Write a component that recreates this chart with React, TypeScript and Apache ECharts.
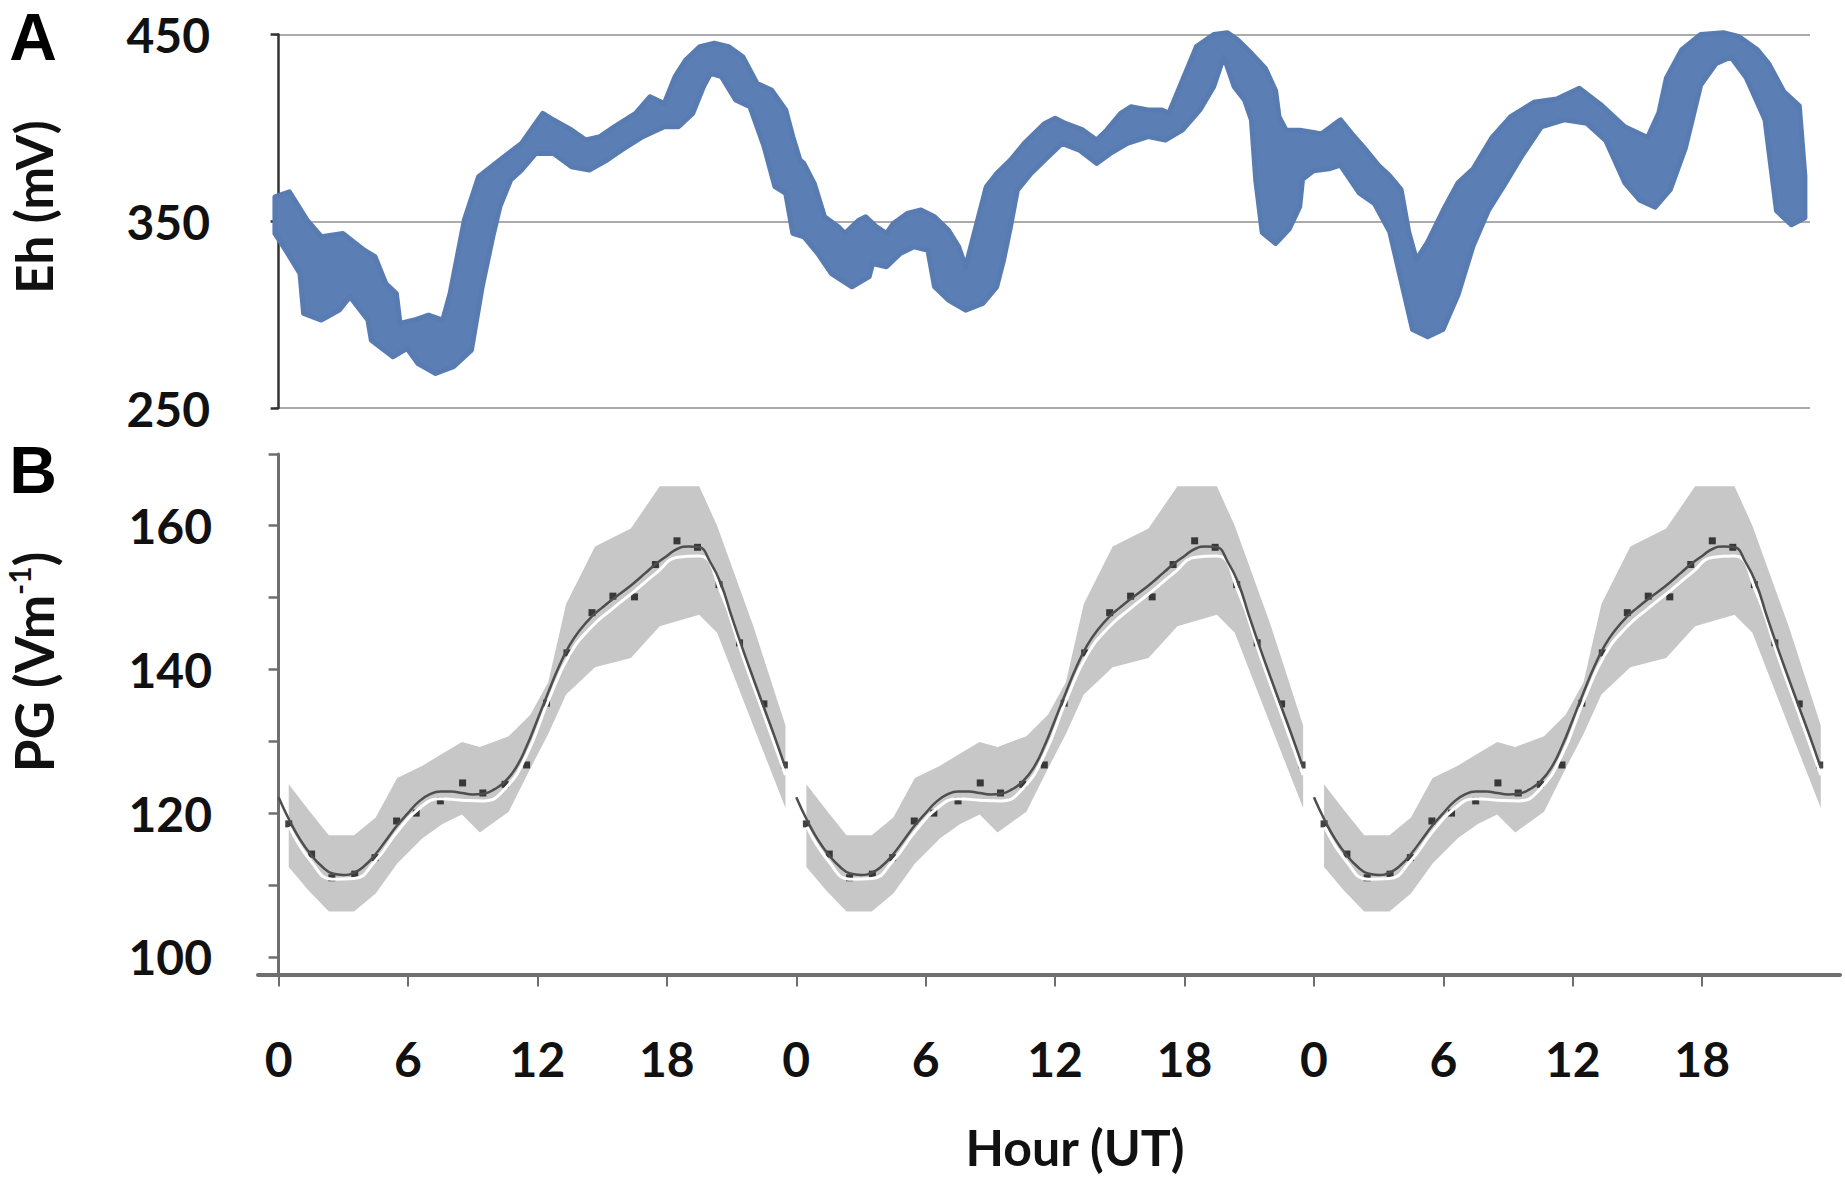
import React, { useEffect, useRef } from "react";
import * as echarts from "echarts";

// ---------- Panel A: Eh (mV), envelope of the plotted diamond markers ----------
const ehUpperHours = [
  -0.17, 0.5, 1.32, 1.98, 2.98, 3.97, 4.47, 4.97, 5.46, 5.63, 6.29, 6.95, 7.61, 7.95, 8.61, 9.27, 10.26, 11.26,
  12.25, 12.75, 13.58, 14.24, 14.9, 15.56, 16.55, 17.22, 17.88, 18.38, 18.87, 19.53, 20.2, 20.86, 21.52, 22.18,
  22.85, 23.51, 23.84, 24.17, 24.35, 24.83, 25.31, 25.95, 26.26, 26.9, 27.22, 27.7, 28.18, 28.5, 29.14, 29.78,
  30.41, 31.05, 31.53, 31.85, 32.33, 32.81, 33.29, 33.93, 34.57, 35.52, 36.0, 36.48, 37.28, 37.92, 38.4, 39.04,
  39.51, 40.31, 40.95, 41.27, 41.91, 42.55, 43.35, 43.98, 44.46, 45.1, 45.74, 46.22, 46.38, 46.7, 47.34, 47.98,
  48.35, 49.23, 49.76, 50.46, 50.99, 51.51, 52.04, 52.39, 52.75, 53.27, 53.98, 54.68, 55.38, 56.26, 57.14, 58.19,
  59.25, 60.3, 61.36, 62.41, 63.47, 63.99, 64.34, 65.05, 65.93, 66.98, 67.68, 68.56, 69.09, 69.79, 70.5, 70.76,
];
const ehUpperValues = [
  363.1, 365.8, 350.6, 341.7, 343.5, 334.5, 331.0, 316.7, 311.3, 295.3, 297.1, 299.7, 297.1, 311.3, 350.6, 373.8, 382.8, 391.7,
  407.8, 404.2, 398.9, 393.5, 395.3, 400.6, 407.8, 416.7, 413.1, 427.4, 436.3, 443.5, 445.3, 443.5, 438.1, 423.8,
  420.3, 409.6, 395.3, 382.8, 381.0, 370.3, 352.4, 347.1, 343.5, 350.6, 352.4, 347.1, 343.5, 348.8, 354.2, 356.0,
  352.4, 345.3, 336.3, 325.6, 347.1, 368.5, 375.6, 382.8, 391.7, 402.4, 405.1, 402.4, 398.9, 393.5, 398.9, 407.8,
  411.3, 409.6, 409.6, 407.8, 425.6, 443.5, 450.0, 451.0, 447.1, 439.9, 432.0, 420.0, 406.0, 398.9, 398.7, 397.5,
  396.8, 404.3, 396.8, 387.5, 380.0, 374.3, 366.9, 344.4, 329.4, 338.8, 355.6, 370.6, 378.1, 394.9, 406.2, 413.7,
  415.5, 421.2, 411.8, 400.6, 394.9, 408.1, 426.8, 441.8, 450.0, 451.0, 449.0, 441.8, 434.3, 419.3, 411.8, 374.3,
];
const ehLowerHours = [
  -0.17, 0.33, 0.99, 1.16, 1.98, 2.81, 3.31, 4.14, 4.3, 5.3, 5.96, 6.46, 7.28, 8.11, 8.94, 9.44, 9.93, 10.26,
  10.76, 11.26, 11.92, 12.75, 13.58, 14.4, 15.23, 15.89, 16.88, 17.88, 18.54, 19.2, 19.7, 20.03, 20.53, 21.19,
  21.85, 22.51, 23.01, 23.51, 23.84, 24.35, 24.99, 25.63, 26.58, 27.38, 27.54, 28.18, 28.82, 29.46, 30.1, 30.41,
  31.05, 31.85, 32.65, 33.29, 33.61, 33.93, 34.25, 34.88, 35.52, 36.32, 37.12, 37.92, 38.56, 39.35, 40.31, 41.11,
  41.91, 42.71, 43.35, 43.82, 44.3, 44.78, 45.1, 45.3, 45.6, 46.22, 46.86, 47.34, 47.47, 47.98, 48.7, 49.23,
  50.11, 50.81, 51.51, 52.04, 52.57, 53.27, 53.98, 54.68, 55.38, 56.08, 56.79, 57.67, 58.54, 59.6, 60.65, 61.53,
  62.41, 63.11, 63.82, 64.52, 65.22, 65.93, 66.63, 67.33, 68.04, 68.91, 69.44, 70.14, 70.76,
];
const ehLowerValues = [
  343.5, 334.5, 322.0, 300.6, 297.1, 302.4, 309.6, 297.1, 286.3, 277.4, 281.9, 273.8, 268.5, 272.1, 281.0, 315.0, 341.7, 357.8,
  372.1, 377.4, 386.3, 386.3, 379.2, 377.4, 382.8, 388.1, 395.3, 400.6, 400.6, 407.8, 422.1, 429.2, 427.4, 414.9,
  411.3, 389.9, 368.5, 364.9, 343.5, 341.7, 332.8, 322.0, 314.9, 320.3, 327.4, 325.6, 332.8, 336.3, 334.5, 314.9,
  307.8, 302.4, 306.0, 314.9, 329.2, 347.1, 366.7, 375.6, 382.8, 391.7, 388.1, 381.0, 386.3, 391.7, 395.3, 393.5,
  398.9, 409.6, 422.1, 438.1, 422.1, 414.9, 404.2, 372.0, 344.0, 338.1, 346.0, 357.8, 372.5, 377.0, 378.1, 380.0,
  365.0, 359.4, 344.4, 318.2, 292.0, 288.2, 292.0, 310.7, 336.9, 355.6, 368.7, 385.6, 400.6, 404.3, 402.4, 393.1,
  370.6, 361.2, 357.5, 366.9, 389.3, 423.0, 434.3, 438.0, 426.8, 404.3, 355.6, 348.1, 351.9,
];
const ehLabelTicks = [250, 350, 450];

// ---------- Panel B: PG (V/m), one composite day, shown for each of the three days ----------
const dayOffsets = [0, 24, 48];
const pgLineHours = [
  0, 0.5, 1, 1.5, 2, 2.5, 3, 3.5, 4, 4.5, 5, 5.5, 6, 6.5, 7, 7.5, 8, 8.5, 9, 9.5, 10, 10.5, 11, 11.5,
  12, 12.5, 13, 13.5, 14, 14.5, 15, 15.5, 16, 16.5, 17, 17.5, 18, 18.5, 19, 19.5, 20, 20.5, 21, 21.5, 22, 22.5, 23, 23.5,
];
const pgLineValues = [
  122.2, 119.0, 116.3, 114.2, 112.6, 111.6, 111.4, 111.7, 112.7, 114.3, 116.3, 118.3, 120.0, 121.6, 122.6, 123.0, 123.0, 122.8,
  122.6, 122.7, 123.3, 124.4, 126.3, 129.3, 133.0, 136.8, 140.4, 143.4, 145.6, 147.3, 148.6, 149.8, 150.9, 152.1, 153.4, 154.7,
  155.8, 156.8, 157.1, 157.0, 155.0, 152.0, 147.4, 143.0, 138.8, 134.7, 130.6, 126.3,
];
const pgWhiteHours = [0.5, 1.5, 2.5, 3.5, 4.5, 5.5, 6.5, 7.5, 8.5, 9.5, 10.5, 11.5, 12.5, 13.5, 14.5, 15.5, 16.5, 17.5, 18.5, 19.5, 20.5, 21.5, 22.5, 23.5];
const pgWhiteValues = [
  118.1, 113.3, 110.8, 110.9, 113.4, 117.4, 120.6, 122.0, 121.8, 121.7, 123.4, 128.1, 135.6, 142.1, 145.9, 148.5, 150.9, 153.4,
  155.6, 155.8, 150.8, 142.0, 133.7, 125.3,
];
const pgDotHours = [
  0.47, 1.53, 2.47, 3.53, 4.47, 5.47, 6.38, 7.5, 8.53, 9.47, 10.5, 11.5, 12.42, 13.37, 14.53, 15.5, 16.5, 17.47, 18.47, 19.42,
  20.42, 21.37, 22.5, 23.45,
];
const pgDotValues = [
  118.5, 114.3, 111.0, 111.5, 113.8, 118.9, 120.0, 121.7, 124.2, 122.8, 124.0, 126.7, 135.3, 142.3, 147.9, 150.2, 150.1, 154.6,
  157.9, 157.0, 151.8, 143.7, 135.2, 126.7,
];
const pgBandHours = [0.47, 1.4, 2.33, 3.5, 4.5, 5.5, 6.67, 7.6, 8.5, 9.33, 10.67, 11.67, 12.5, 13.33, 14.67, 16.33, 17.67, 19.5, 20.33, 22, 23.5];
const pgBandUpper = [124.0, 120.4, 116.9, 116.9, 119.4, 124.9, 126.6, 128.3, 129.9, 129.2, 130.7, 133.7, 138.2, 149.1, 157.1, 159.6, 165.5, 165.5, 160.0, 146.1, 132.2];
const pgBandLower = [112.5, 109.2, 106.3, 106.3, 108.8, 113.0, 116.5, 118.5, 119.8, 117.3, 120.2, 126.2, 131.0, 136.5, 140.3, 141.6, 146.0, 147.6, 145.1, 132.2, 120.7];
const pgTickValues = [100, 110, 120, 130, 140, 150, 160, 170];
const pgLabelValues = [100, 120, 140, 160];

// ---------- shared hour axis ----------
const hourTicks = [0, 6, 12, 18, 24, 30, 36, 42, 48, 54, 60, 66];

const LABEL_FONT = "Lato, 'Open Sans', 'DejaVu Sans', sans-serif";

function bandRenderer(upH: number[], upV: number[], loH: number[], loV: number[]) {
  return (params: any, api: any) => {
    const off = api.value(0);
    const pts: number[][] = [];
    for (let i = 0; i < upH.length; i++) pts.push(api.coord([upH[i] + off, upV[i]]));
    for (let i = loH.length - 1; i >= 0; i--) pts.push(api.coord([loH[i] + off, loV[i]]));
    return { type: "polygon", shape: { points: pts }, style: api.style() };
  };
}

export default function App() {
  const ref = useRef<HTMLDivElement>(null);
  useEffect(() => {
    if (!ref.current) return;
    const chart = echarts.init(ref.current, undefined, { renderer: "svg" });

    const series: any[] = [
      {
        type: "custom",
        xAxisIndex: 0,
        yAxisIndex: 0,
        silent: true,
        data: [[0, 350]],
        itemStyle: { color: "#5b7fb5", borderColor: "#587cb2", borderWidth: 5, borderJoin: "round" },
        renderItem: bandRenderer(ehUpperHours, ehUpperValues, ehLowerHours, ehLowerValues),
      },
      {
        type: "custom",
        xAxisIndex: 1,
        yAxisIndex: 1,
        silent: true,
        data: dayOffsets.map((d) => [d, 130]),
        itemStyle: { color: "#c7c7c7" },
        renderItem: bandRenderer(pgBandHours, pgBandUpper, pgBandHours, pgBandLower),
      },
    ];
    dayOffsets.forEach((d) => {
      series.push({
        type: "line",
        xAxisIndex: 1,
        yAxisIndex: 1,
        silent: true,
        smooth: true,
        showSymbol: false,
        lineStyle: { color: "#ffffff", width: 3 },
        data: pgWhiteHours.map((h, i) => [h + d, pgWhiteValues[i]]),
      });
      series.push({
        type: "line",
        xAxisIndex: 1,
        yAxisIndex: 1,
        silent: true,
        smooth: true,
        showSymbol: false,
        lineStyle: { color: "#4e4e4e", width: 2.5 },
        data: pgLineHours.map((h, i) => [h + d, pgLineValues[i]]),
      });
      series.push({
        type: "scatter",
        xAxisIndex: 1,
        yAxisIndex: 1,
        silent: true,
        symbol: "rect",
        symbolSize: 7,
        itemStyle: { color: "#141414" },
        data: pgDotHours.map((h, i) => [h + d, pgDotValues[i]]),
      });
    });

    const option: any = {
      animation: false,
      backgroundColor: "#ffffff",
      grid: [
        { left: 274, right: 35, top: 34.5, height: 373.5, containLabel: false },
        { left: 258, right: 5, top: 453.9, height: 520.7, containLabel: false },
      ],
      xAxis: [
        { gridIndex: 0, type: "value", min: -0.213, max: 70.996, show: false },
        {
          gridIndex: 1,
          type: "value",
          min: -0.955,
          max: 72.39,
          axisLine: { show: true, onZero: false, lineStyle: { color: "#6e6e6e", width: 4 } },
          axisTick: { show: true, customValues: hourTicks, length: 12, lineStyle: { color: "#6e6e6e", width: 2 } },
          axisLabel: {
            show: true,
            customValues: hourTicks,
            formatter: (v: number) => String(Math.round(v) % 24),
            margin: 60,
            color: "#111111",
            fontFamily: LABEL_FONT,
            fontWeight: "bold",
            fontSize: 48,
          },
          splitLine: { show: false },
        },
      ],
      yAxis: [
        {
          gridIndex: 0,
          type: "value",
          min: 250,
          max: 450,
          interval: 50,
          offset: 21,
          axisLine: { show: true, lineStyle: { color: "#333333", width: 2.5 } },
          axisTick: { show: true, customValues: ehLabelTicks, length: 8, lineStyle: { color: "#333333", width: 2.5 } },
          axisLabel: {
            customValues: ehLabelTicks,
            margin: 43,
            color: "#111111",
            fontFamily: LABEL_FONT,
            fontWeight: "bold",
            fontSize: 48,
          },
          splitLine: { show: true, lineStyle: { color: "#ababab", width: 2 } },
        },
        {
          gridIndex: 1,
          type: "value",
          min: 97.52,
          max: 170,
          axisLine: { show: true, lineStyle: { color: "#6e6e6e", width: 3 } },
          axisTick: { show: true, customValues: pgTickValues, length: 10, lineStyle: { color: "#6e6e6e", width: 2.5 } },
          axisLabel: {
            customValues: pgLabelValues,
            margin: 46,
            color: "#111111",
            fontFamily: LABEL_FONT,
            fontWeight: "bold",
            fontSize: 48,
          },
          splitLine: { show: false },
        },
      ],
      graphic: [
        {
          type: "text",
          x: 33,
          y: 37,
          style: { text: "A", fill: "#000", font: "bold 66px 'Liberation Sans', Arial, sans-serif", align: "center", verticalAlign: "middle" },
        },
        {
          type: "text",
          x: 33,
          y: 470,
          style: { text: "B", fill: "#000", font: "bold 66px 'Liberation Sans', Arial, sans-serif", align: "center", verticalAlign: "middle" },
        },
        {
          type: "text",
          x: 33,
          y: 207,
          rotation: Math.PI / 2,
          style: { text: "Eh (mV)", fill: "#111", font: `bold 51px ${LABEL_FONT}`, align: "center", verticalAlign: "middle" },
        },
        {
          type: "text",
          x: 33,
          y: 662,
          rotation: Math.PI / 2,
          style: {
            text: "{n|PG (Vm}{s|-1}{n|)}",
            align: "center",
            verticalAlign: "middle",
            rich: {
              n: { fontFamily: LABEL_FONT, fontWeight: "bold", fontSize: 53, fill: "#111", verticalAlign: "middle", lineHeight: 58 },
              s: { fontFamily: LABEL_FONT, fontWeight: "bold", fontSize: 30, fill: "#111", verticalAlign: "top", lineHeight: 58 },
            },
          },
        },
        {
          type: "text",
          x: 1075,
          y: 1147,
          style: { text: "Hour (UT)", fill: "#111", font: `bold 50px ${LABEL_FONT}`, align: "center", verticalAlign: "middle" },
        },
      ],
      series,
    };
    chart.setOption(option);
    return () => chart.dispose();
  }, []);

  return (
    <div
      ref={ref}
      style={{ position: "fixed", left: 0, top: 0, width: 1845, height: 1185, background: "#fff" }}
    />
  );
}
